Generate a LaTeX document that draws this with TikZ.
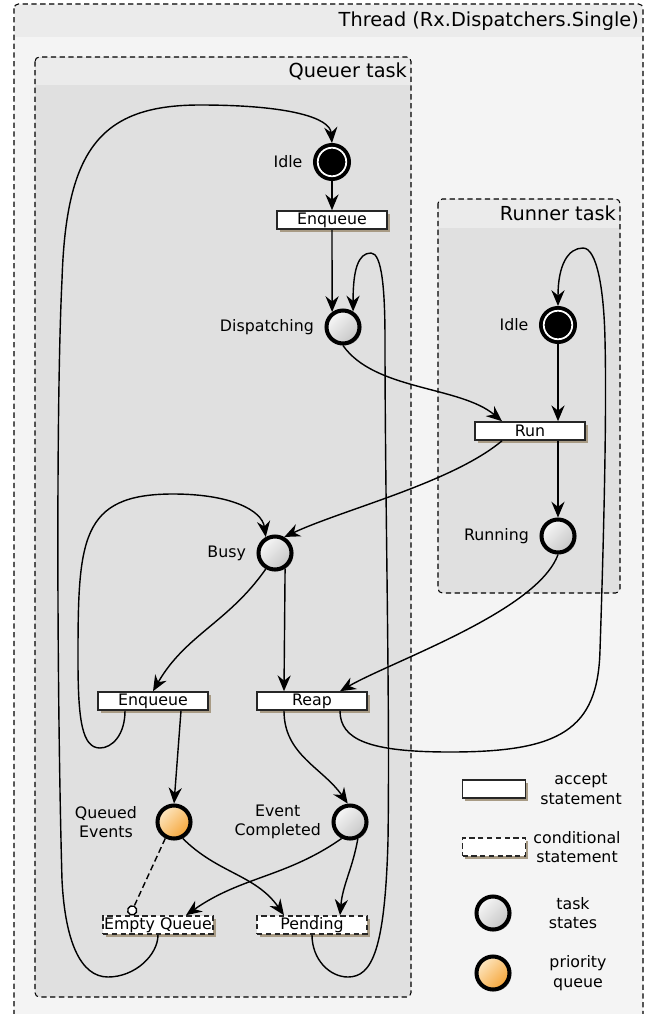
\documentclass[tikz,border=0pt]{standalone}
\usepackage{fontspec}
\setmainfont{DejaVu Sans}
\usetikzlibrary{arrows.meta,shadows,calc}

\definecolor{threadbg}{HTML}{F4F4F4}
\definecolor{headbg}{HTML}{EBEBEB}
\definecolor{taskbg}{HTML}{E0E0E0}
\definecolor{boxshade}{HTML}{A89B85}
\definecolor{queuelight}{HTML}{FDE7C2}
\definecolor{queuedark}{HTML}{F5A436}

\tikzset{
  frame/.style={draw, dash pattern=on 3pt off 2pt, line width=0.6pt, rounded corners=2.5pt},
  title/.style={font=\fontsize{11}{13}\selectfont, inner sep=1pt},
  lbl/.style={font=\fontsize{9}{11}\selectfont, align=center},
  taskstate/.style={circle, draw, line width=2.3pt, minimum size=0.66cm, inner sep=0pt,
    top color=gray!6, bottom color=gray!45, shading angle=45,
    drop shadow={opacity=0.3, fill=black, shadow xshift=1pt, shadow yshift=-1pt}},
  prio/.style={taskstate, top color=queuelight, bottom color=queuedark, shading angle=45},
  idle/.style={circle, draw, fill=black, line width=2.2pt, double=white, double distance=1pt,
    minimum size=0.57cm, inner sep=0pt, outer sep=2.7pt,
    drop shadow={opacity=0.3, fill=black, shadow xshift=1pt, shadow yshift=-1pt}},
  accept/.style={rectangle, draw=black!85, fill=white, line width=0.9pt, minimum width=2.2cm,
    minimum height=0.36cm, inner sep=0pt, font=\fontsize{9}{11}\selectfont,
    drop shadow={fill=boxshade, opacity=1, shadow xshift=1.6pt, shadow yshift=-1.6pt}},
  cond/.style={accept, dash pattern=on 3pt off 2pt},
  arr/.style={-{Stealth[length=9pt,width=7.5pt,inset=3pt]}, line width=0.8pt},
}

\begin{document}
\begin{tikzpicture}[x=0.02cm, y=0.02cm]
\useasboundingbox (0,0) rectangle (649,-1014);
\clip (0,0) rectangle (649,-1014);

% frames
\fill[threadbg, rounded corners=2.5pt] (14,-4) rectangle (643,-1030);
\fill[headbg] (15,-5) rectangle (642,-37);
\draw[frame] (14,-4) rectangle (643,-1030);
\node[title, anchor=east] (threadlbl) at (641,-21) {Thread (Rx.Dispatchers.Single)};

\fill[taskbg, rounded corners=2.5pt] (35,-57) rectangle (411,-997);
\fill[headbg] (36,-58) rectangle (410,-85);
\draw[frame] (35,-57) rectangle (411,-997);
\node[title, anchor=east] (queuerlbl) at (409,-71) {Queuer task};

\fill[taskbg, rounded corners=2.5pt] (438,-199) rectangle (620,-593);
\fill[headbg] (439,-200) rectangle (619,-228);
\draw[frame] (438,-199) rectangle (620,-593);
\node[title, anchor=east] (runnerlbl) at (618,-213) {Runner task};

% queuer task
\node[idle, label={[lbl, label distance=2.5pt]left:Idle}] (QIdle) at (332,-162) {};
\node[accept] (Enq1) at (332,-220) {Enqueue};
\node[taskstate, label={[lbl, label distance=2.5pt]left:Dispatching}] (Disp) at (343,-327) {};
\node[taskstate, label={[lbl, label distance=2.5pt]left:Busy}] (Busy) at (275,-553) {};
\node[accept] (Enq2) at (153,-701) {Enqueue};
\node[accept] (Reap) at (312,-701) {Reap};
\node[prio, label={[lbl, label distance=7pt]left:Queued\\Events}] (QE) at (174,-822) {};
\node[taskstate, label={[lbl, label distance=2.5pt]left:Event\\Completed}] (EC) at (350,-822) {};
\node[cond] (EmptyQ) at (158,-925) {Empty Queue};
\node[cond] (Pend) at (312,-925) {Pending};

% runner task
\node[idle, label={[lbl, label distance=2.5pt]left:Idle}] (RIdle) at (558,-325) {};
\node[accept] (Run) at (530,-431) {Run};
\node[taskstate, label={[lbl, label distance=2.5pt]left:Running}] (Running) at (558,-536) {};

% legend
\node[accept, minimum width=1.26cm] (lgAccept) at (494,-789) {};
\node[lbl] (lgAcceptTxt) at (581,-789) {accept\\statement};
\node[cond, minimum width=1.26cm] (lgCond) at (494,-847) {};
\node[lbl] (lgCondTxt) at (577,-847) {conditional\\statement};
\node[taskstate] (lgTask) at (493,-913) {};
\node[lbl] (lgTaskTxt) at (573,-913) {task\\states};
\node[prio] (lgQueue) at (493,-973) {};
\node[lbl] (lgQueueTxt) at (578,-973) {priority\\queue};

% quarter points on the boxes
\foreach \b in {Enq1,Run,Enq2,Reap,EmptyQ,Pend}{
  \coordinate (\b-nl) at ($(\b.north)+(-28,0)$);
  \coordinate (\b-nr) at ($(\b.north)+(28,0)$);
  \coordinate (\b-sl) at ($(\b.south)+(-28,0)$);
  \coordinate (\b-sr) at ($(\b.south)+(28,0)$);
}

\draw[arr] (QIdle.south) -- (Enq1.north);
\draw[arr] (Enq1.south) -- (Disp.126);
\draw[arr] (Disp.south) to[out=-55,in=140,looseness=0.8] (Run-nl);
\draw[arr] (RIdle.south) -- (Run-nr);
\draw[arr] (Run-sr) -- (Running.north);
\draw[arr] (Run-sl) to[out=-140,in=25,looseness=0.7] (Busy.60);
\draw[arr] (Running.south) to[out=-110,in=30,looseness=0.6] (Reap-nr);
\draw[arr] (Busy.-120) to[out=-125,in=60] (Enq2.north);
\draw[arr] (Busy.-57) -- (Reap-nl);
\draw[arr] (Enq2-sr) -- (QE.north);
\draw[arr] (Reap-sl) to[out=-90,in=125] (EC.97);
\draw[line width=0.8pt, dash pattern=on 3.5pt off 2pt, -{Circle[fill=white,length=6pt]}] (QE.-118) -- (EmptyQ-nl);
\draw[arr] (QE.-62) to[out=-45,in=125] (Pend-nl);
\draw[arr] (EC.-117) to[out=-145,in=35] (EmptyQ-nr);
\draw[arr] (EC.-65) to[out=-100,in=85] (Pend-nr);

% loops
\draw[arr] (Enq2-sl) .. controls (125,-735) and (112,-748) .. (100,-748)
  .. controls (82,-748) and (78,-720) .. (78,-660)
  .. controls (78,-540) and (80,-494) .. (173,-494)
  .. controls (230,-494) and (262,-510) .. (Busy.120);
\draw[arr] (EmptyQ.south) .. controls (158,-955) and (135,-977) .. (108,-977)
  .. controls (80,-977) and (65,-940) .. (62,-880)
  .. controls (57,-700) and (56,-400) .. (62,-280)
  .. controls (66,-150) and (100,-105) .. (200,-105)
  .. controls (290,-105) and (330,-118) .. (QIdle.north);
\draw[arr] (Pend.south) .. controls (312,-960) and (330,-977) .. (348,-977)
  .. controls (372,-977) and (385,-950) .. (388,-840)
  .. controls (390,-700) and (385,-500) .. (385,-340)
  .. controls (385,-290) and (382,-253) .. (371,-253)
  .. controls (358,-253) and (353,-270) .. (Disp.57);
\draw[arr] (Reap-sr) .. controls (340,-740) and (370,-752) .. (450,-752)
  .. controls (560,-752) and (598,-730) .. (600,-650)
  .. controls (603,-560) and (607,-420) .. (605,-340)
  .. controls (604,-290) and (597,-248) .. (583,-248)
  .. controls (568,-248) and (558,-265) .. (RIdle.north);

\end{tikzpicture}
\end{document}
